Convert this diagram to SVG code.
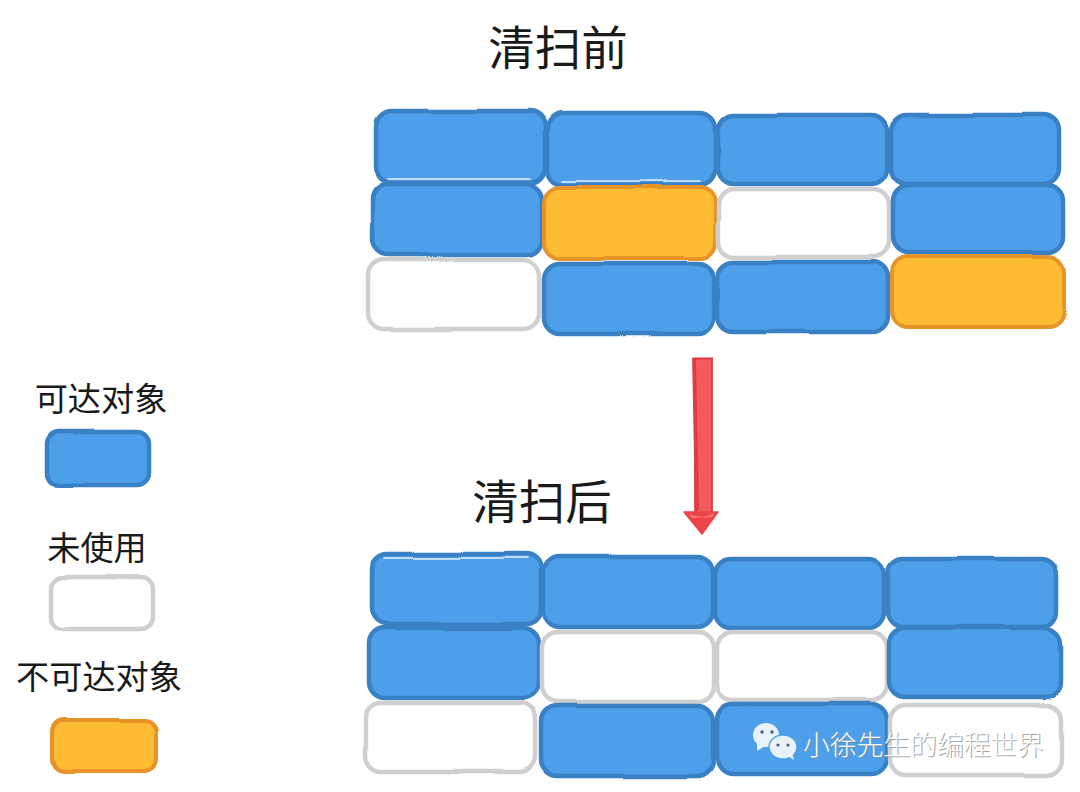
<svg xmlns="http://www.w3.org/2000/svg" width="1080" height="792" viewBox="0 0 1080 792">
<defs>
<filter id="sk" x="-5%" y="-5%" width="110%" height="110%" color-interpolation-filters="sRGB">
<feTurbulence type="fractalNoise" baseFrequency="0.01" numOctaves="1" seed="7" result="n"/>
<feDisplacementMap in="SourceGraphic" in2="n" scale="4" xChannelSelector="R" yChannelSelector="G"/>
<feGaussianBlur stdDeviation="0.4"/>
</filter>
</defs>
<style>
.b{fill:#4e9fe9;stroke:#3a80c4;stroke-width:4.5}
.w{fill:#fff;stroke:#cfcfcf;stroke-width:4.5}
.o{fill:#fdbc34;stroke:#e8922a;stroke-width:4}
.t{font-family:"Noto Sans CJK SC","Liberation Sans",sans-serif;fill:#1a1a1a;text-anchor:middle}
.h{font-size:46.5px}.l{font-size:33.2px}
.m{font-family:"Noto Sans CJK SC","Liberation Sans",sans-serif;font-size:27px;font-weight:300;letter-spacing:-0.3px}
.hl{fill:none;stroke:#fff;stroke-width:1.5;stroke-linecap:round;opacity:.85}
</style>
<rect width="1080" height="792" fill="#fff"/>
<g id="title-before"><text class="t h" x="558" y="65">清扫前</text></g>
<g id="title-after"><text class="t h" x="542" y="519">清扫后</text></g>
<g id="grid-before" filter="url(#sk)">
<g id="a1"><rect class="b" x="376" y="111" width="169" height="72" rx="16"/><path class="hl" d="M388 179H530"/></g>
<g id="a2"><rect class="b" x="547" y="113" width="168" height="72" rx="16"/><path class="hl" d="M562 181H700"/></g>
<g id="a3"><rect class="b" x="718" y="115" width="169" height="69" rx="16"/></g>
<g id="a4"><rect class="b" x="891" y="115" width="169" height="69" rx="16"/></g>
<g id="a5"><rect class="b" x="372" y="184" width="170" height="71" rx="16"/></g>
<g id="a6"><rect class="o" x="544" y="187" width="172" height="71" rx="16"/></g>
<g id="a7"><rect class="w" x="719" y="189" width="170" height="68" rx="16"/></g>
<g id="a8"><rect class="b" x="893" y="185" width="171" height="68" rx="16"/></g>
<g id="a9"><rect class="w" x="368" y="260" width="171" height="69" rx="16"/></g>
<g id="a10"><rect class="b" x="544" y="263" width="170" height="71" rx="16"/></g>
<g id="a11"><rect class="b" x="718" y="262" width="170" height="70" rx="16"/></g>
<g id="a12"><rect class="o" x="892" y="257" width="172" height="70" rx="16"/></g>
</g>
<g id="grid-after" filter="url(#sk)">
<g id="b1"><rect class="b" x="372" y="554" width="170" height="70" rx="16"/><path class="hl" d="M385 558H528"/></g>
<g id="b2"><rect class="b" x="544" y="557" width="169" height="70" rx="16"/></g>
<g id="b3"><rect class="b" x="715" y="559" width="169" height="69" rx="16"/></g>
<g id="b4"><rect class="b" x="888" y="558" width="169" height="69" rx="16"/></g>
<g id="b5"><rect class="b" x="369" y="628" width="170" height="70" rx="16"/></g>
<g id="b6"><rect class="w" x="542" y="632" width="172" height="70" rx="16"/></g>
<g id="b7"><rect class="w" x="717" y="632" width="170" height="68" rx="16"/></g>
<g id="b8"><rect class="b" x="889" y="628" width="172" height="69" rx="16"/></g>
<g id="b9"><rect class="w" x="365" y="703" width="171" height="69" rx="16"/></g>
<g id="b10"><rect class="b" x="542" y="706" width="171" height="70" rx="16"/></g>
<g id="b11"><rect class="b" x="717" y="704" width="170" height="70" rx="16"/></g>
<g id="b12"><rect class="w" x="890" y="705" width="171" height="70" rx="16"/></g>
</g>
<g id="connectors">
<path d="M694 358H712L712 512H694Z" fill="#f4595d"/>
<path d="M693 358L696 512M695 359L698 510M712 358V513M693 358.500H713" fill="none" stroke="#dd3a40" stroke-width="1.8"/>
<path d="M684 512L718 512L702 534Z" fill="#ec4448" stroke="#e8474b" stroke-width="1.5" stroke-linejoin="round"/>
<path d="M689 514Q702 520 715 513L712 517L692 518Z" fill="#f77d7f"/>
</g>
<g id="legend-reachable"><text class="t l" x="101" y="411">可达对象</text><rect class="b" x="48" y="431" width="101" height="54" rx="12" filter="url(#sk)"/></g>
<g id="legend-unused"><text class="t l" x="97" y="560">未使用</text><rect class="w" x="51" y="577" width="101" height="52" rx="12" filter="url(#sk)"/></g>
<g id="legend-unreachable"><text class="t l" x="99" y="689">不可达对象</text><rect class="o" x="53" y="720" width="103" height="51" rx="12" filter="url(#sk)"/></g>
<g id="watermark">
<g fill="#e9f1fa">
<ellipse cx="766" cy="735" rx="13" ry="12"/><path d="M757 743L757 751L765 746Z"/>
<ellipse cx="783" cy="747" rx="14" ry="12" stroke="#4e9fe9" stroke-width="1.5"/><path d="M788 756L794 760L792 752Z"/>
</g>
<g fill="#46617c"><circle cx="762" cy="732" r="1.7"/><circle cx="772" cy="732" r="1.7"/><circle cx="778" cy="745" r="1.6"/><circle cx="788" cy="745" r="1.6"/></g>
<text class="m" x="803" y="755" fill="#888" fill-opacity=".75" transform="translate(1.2 1.2)">小徐先生的编程世界</text>
<text class="m" x="803" y="755" fill="#fff">小徐先生的编程世界</text>
</g>
</svg>
